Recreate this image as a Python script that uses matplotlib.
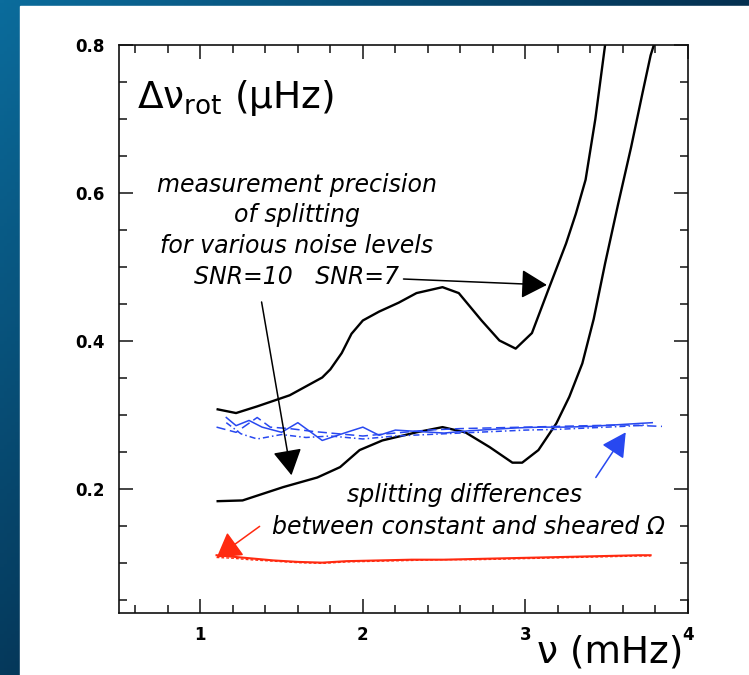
import numpy as np
import matplotlib
matplotlib.use("Agg")
import matplotlib.pyplot as plt
from matplotlib.ticker import MultipleLocator

# ---------------- data ----------------
snr7_x = [1.107, 1.22, 1.35, 1.55, 1.75, 1.80, 1.87, 1.93, 2.0, 2.1, 2.22, 2.33, 2.49,
          2.59, 2.73, 2.84, 2.94, 3.04, 3.14, 3.25, 3.31, 3.37, 3.43, 3.49]
snr7_y = [0.308, 0.303, 0.312, 0.327, 0.351, 0.362, 0.384, 0.410, 0.428, 0.440, 0.452, 0.465, 0.473,
          0.465, 0.428, 0.401, 0.390, 0.411, 0.469, 0.532, 0.572, 0.618, 0.700, 0.800]

snr10_x = [1.107, 1.26, 1.51, 1.72, 1.86, 1.98, 2.12, 2.33, 2.49, 2.63, 2.78, 2.92,
           2.98, 3.08, 3.19, 3.27, 3.35, 3.42, 3.49, 3.57, 3.65, 3.72, 3.77, 3.79]
snr10_y = [0.184, 0.185, 0.203, 0.216, 0.230, 0.253, 0.266, 0.277, 0.284, 0.277, 0.257, 0.236,
           0.236, 0.253, 0.289, 0.325, 0.370, 0.430, 0.505, 0.585, 0.662, 0.735, 0.786, 0.800]

blue_solid_x = [1.16, 1.22, 1.30, 1.38, 1.50, 1.60, 1.75, 1.90, 2.00, 2.10, 2.20, 2.35,
                2.50, 2.65, 2.80, 2.95, 3.10, 3.25, 3.40, 3.55, 3.70, 3.78]
blue_solid_y = [0.297, 0.286, 0.293, 0.284, 0.277, 0.290, 0.266, 0.277, 0.284, 0.273, 0.280, 0.278,
                0.276, 0.279, 0.281, 0.283, 0.284, 0.284, 0.285, 0.287, 0.289, 0.290]

blue_dash_x = [1.10, 1.22, 1.35, 1.43, 1.55, 1.70, 1.85, 2.00, 2.20, 2.40, 2.60, 2.80,
               3.00, 3.20, 3.40, 3.60, 3.84]
blue_dash_y = [0.284, 0.277, 0.297, 0.284, 0.282, 0.278, 0.275, 0.272, 0.276, 0.280, 0.282, 0.283,
               0.284, 0.285, 0.286, 0.287, 0.285]

blue_dd_x = [1.16, 1.25, 1.35, 1.50, 1.65, 1.80, 2.00, 2.20, 2.40, 2.60, 2.80, 3.00,
             3.20, 3.40, 3.60, 3.75]
blue_dd_y = [0.290, 0.275, 0.268, 0.274, 0.270, 0.272, 0.268, 0.272, 0.274, 0.276, 0.278, 0.280,
             0.281, 0.283, 0.285, 0.287]

red_x = [1.10, 1.20, 1.30, 1.45, 1.60, 1.75, 1.90, 2.10, 2.30, 2.50, 2.70, 2.90,
         3.10, 3.30, 3.50, 3.70, 3.77]
red_y = [0.111, 0.109, 0.107, 0.104, 0.102, 0.101, 0.103, 0.104, 0.105, 0.105, 0.106, 0.107,
         0.108, 0.109, 0.110, 0.111, 0.111]
red2_y = [0.108, 0.107, 0.105, 0.103, 0.101, 0.100, 0.102, 0.103, 0.104, 0.105, 0.105, 0.106,
          0.107, 0.108, 0.109, 0.110, 0.110]

x_ticks = [1, 2, 3, 4]
x_ticklabels = ["1", "2", "3", "4"]
y_ticks = [0.2, 0.4, 0.6, 0.8]
y_ticklabels = ["0.2", "0.4", "0.6", "0.8"]

# ---------------- figure ----------------
plt.rcParams['mathtext.fontset'] = 'dejavusans'

W, H = 749, 675
fig = plt.figure(figsize=(W / 100, H / 100), dpi=100)

# background gradient
bg = fig.add_axes([0, 0, 1, 1])
bg.set_axis_off()
gx = np.linspace(0, 1, 200)[None, :]
gy = np.linspace(0, 1, 200)[:, None]
t = np.clip(gx * 1.0 + gy * 0.85, 0, 1)
c0 = np.array([0x0b, 0x6c, 0x9c]) / 255.0
c1 = np.array([0x04, 0x30, 0x50]) / 255.0
img = c0[None, None, :] * (1 - t[..., None]) + c1[None, None, :] * t[..., None]
bg.imshow(img, extent=[0, 1, 0, 1], aspect='auto', origin='upper')
bg.add_patch(plt.Rectangle((20 / W, 0), 1, 1 - 6 / H, color='white', transform=bg.transAxes))
bg.set_xlim(0, 1)
bg.set_ylim(0, 1)

ax = fig.add_axes([119 / W, 1 - 613 / H, (688 - 119) / W, (613 - 45) / H])
ax.set_facecolor('none')
ax.set_xlim(0.5, 4.0)
ax.set_ylim(0.033, 0.8)

ax.plot(snr7_x, snr7_y, color='black', lw=1.7)
ax.plot(snr10_x, snr10_y, color='black', lw=1.7)
blue = '#2848f0'
ax.plot(blue_solid_x, blue_solid_y, color=blue, lw=1.1)
ax.plot(blue_dash_x, blue_dash_y, color=blue, lw=1.1, ls=(0, (6, 3)))
ax.plot(blue_dd_x, blue_dd_y, color=blue, lw=1.1, ls=(0, (4, 2, 1, 2)))
red = '#ff2a10'
ax.plot(red_x, red_y, color=red, lw=1.5)
ax.plot(red_x, red2_y, color=red, lw=1.0, ls=(0, (2, 1.5)))

# axes styling
for s in ax.spines.values():
    s.set_linewidth(1.2)
    s.set_color('#111111')
ax.set_xticks(x_ticks)
ax.set_xticklabels(x_ticklabels)
ax.set_yticks(y_ticks)
ax.set_yticklabels(y_ticklabels)
ax.xaxis.set_minor_locator(MultipleLocator(0.2))
ax.yaxis.set_minor_locator(MultipleLocator(0.05))
ax.tick_params(which='both', direction='in', top=True, right=True, width=1.1, color='#111111')
ax.tick_params(which='major', length=10)
ax.tick_params(which='minor', length=6)
ax.tick_params(axis='x', which='major', pad=9)
ax.tick_params(axis='y', which='major', pad=10)
for lab in ax.get_xticklabels() + ax.get_yticklabels():
    lab.set_fontsize(12)
    lab.set_fontweight('bold')
    lab.set_fontfamily('DejaVu Sans')

# axis titles inside / near plot
fig.text(137 / W, 1 - 108 / H, 'Δν$_{\\mathrm{rot}}$ (μHz)', fontsize=27,
         family='DejaVu Sans', ha='left', va='baseline')
fig.text(537 / W, 1 - 662 / H, 'ν (mHz)', fontsize=27,
         family='DejaVu Sans', ha='left', va='baseline')

# annotations
note_kw = dict(fontsize=17, family='DejaVu Sans', style='oblique', color='black')
cx = 1.592
ax.text(cx, 0.611, 'measurement precision', ha='center', va='center', **note_kw)
ax.text(cx, 0.570, 'of splitting', ha='center', va='center', **note_kw)
ax.text(cx, 0.528, 'for various noise levels', ha='center', va='center', **note_kw)
ax.text(cx, 0.487, 'SNR=10   SNR=7', ha='center', va='center', **note_kw)

ax.text(2.623, 0.192, 'splitting differences', ha='center', va='center', **note_kw)
ax.text(2.65, 0.149, 'between constant and sheared Ω', ha='center', va='center', **note_kw)

ax.annotate('', xy=(3.132, 0.476), xytext=(2.25, 0.484),
            arrowprops=dict(arrowstyle='-|>,head_length=0.8,head_width=0.45',
                            mutation_scale=20, color='black', lw=1.1, shrinkA=0, shrinkB=0))
ax.annotate('', xy=(1.561, 0.219), xytext=(1.377, 0.453),
            arrowprops=dict(arrowstyle='-|>,head_length=0.8,head_width=0.45',
                            mutation_scale=20, color='black', lw=1.1, shrinkA=0, shrinkB=0))
ax.annotate('', xy=(3.617, 0.277), xytext=(3.433, 0.216),
            arrowprops=dict(arrowstyle='-|>,head_length=0.75,head_width=0.4',
                            mutation_scale=20, color=blue, lw=1.1, shrinkA=0, shrinkB=0))
ax.annotate('', xy=(1.101, 0.108), xytext=(1.365, 0.150),
            arrowprops=dict(arrowstyle='-|>,head_length=0.75,head_width=0.45',
                            mutation_scale=20, color=red, lw=1.1, shrinkA=0, shrinkB=0))

fig.savefig('out.png', dpi=100)
